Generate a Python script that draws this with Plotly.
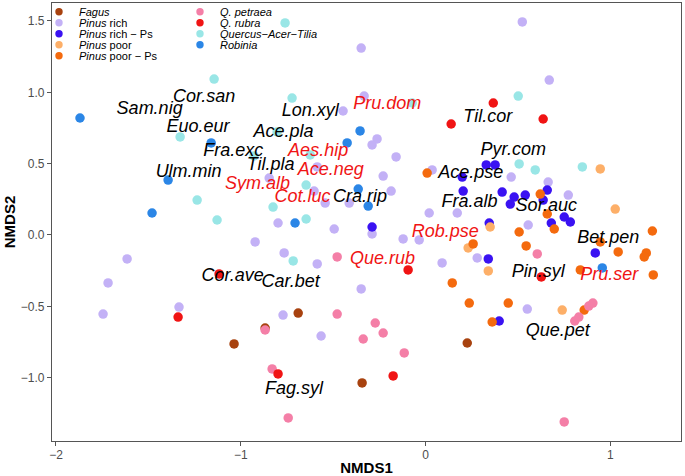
import plotly.graph_objects as go

# ---------------- data (NMDS site scores by forest type) ----------------
groups = ["Fagus", "Pinus rich", "Pinus rich − Ps", "Pinus poor", "Pinus poor − Ps",
          "Q. petraea", "Q. rubra", "Quercus−Acer−Tilia", "Robinia"]

fagus_x = [-1.036, -0.868, -0.689, 0.226, -0.343]
fagus_y = [-0.764, -0.652, -0.547, -0.757, -1.037]

pinus_rich_x = [-0.348, 0.524, 0.670, -0.332, -0.446, -0.262, -0.289, -0.159, -0.229, -0.846,
                -0.586, -0.603, -0.543, -0.413, -0.186, 0.036, 0.020, 0.172, 0.464, 0.664,
                0.773, 0.556, 0.280, 0.090, 0.551, -0.798, -0.494, -0.289, -0.121, -0.034,
                -0.765, -0.586, -0.348, -0.771, -0.565, -0.922, -1.615, -1.718, -1.334, -1.745]
pinus_rich_y = [1.310, 1.493, 1.086, 0.974, 0.869, 0.673, 0.631, 0.547, 0.413, 0.399,
                0.477, 0.308, 0.224, 0.224, 0.308, 0.456, 0.154, 0.154, 0.406, 0.371,
                0.280, 0.070, -0.161, -0.196, -0.519, 0.084, 0.042, 0.007, -0.028, -0.035,
                -0.126, -0.203, -0.378, -0.561, -0.708, -0.049, -0.168, -0.336, -0.505, -0.554]

pinus_rich_ps_x = [0.329, 0.377, 0.199, 0.204, 0.415, 0.480, 0.540, 0.459, 0.659, 0.637,
                   0.345, 0.681, 0.751, 0.784, 0.919, 0.340, 0.399, -0.289]
pinus_rich_ps_y = [0.491, 0.491, 0.406, 0.308, 0.301, 0.266, 0.280, 0.217, 0.315, 0.245,
                   0.084, 0.084, 0.126, 0.091, -0.126, -0.168, -0.603, 0.056]

pinus_poor_x = [0.946, 1.027, 0.350, 0.231, 0.340, 0.740]
pinus_poor_y = [0.463, 0.182, 0.056, -0.091, -0.252, -0.526]

pinus_poor_ps_x = [0.009, 0.621, 0.659, 0.697, 0.507, 0.545, 0.258, 0.145, 0.237, 0.448,
                   0.361, 0.838, 0.946, 1.043, 1.195, 1.184, 1.228, 1.233, 0.859]
pinus_poor_ps_y = [0.434, 0.287, 0.147, 0.042, 0.021, -0.077, -0.063, -0.336, -0.477, -0.477,
                   -0.610, -0.245, -0.049, -0.119, -0.126, -0.154, 0.028, -0.280, -0.526]

q_petraea_x = [-0.478, -0.478, -0.272, -0.229, -0.337, -0.115, -0.868, -0.830, -0.743, 0.605,
               0.751, 0.808, 0.830, 0.884, 0.906]
q_petraea_y = [-0.154, -0.554, -0.617, -0.687, -0.729, -0.827, -0.666, -0.939, -1.282, -0.133,
               -1.310, -0.603, -0.575, -0.498, -0.477]

q_rubra_x = [0.139, 0.367, 0.637, -1.117, -1.339, -0.094, -0.798, -0.175, 0.627]
q_rubra_y = [0.778, 0.925, 0.813, -0.273, -0.575, -0.245, -0.974, -0.988, -0.294]

qat_x = [-0.760, -1.144, -1.328, -0.928, -1.236, -1.128, -0.722, -0.803, -0.624, -0.646,
         -0.825, -0.646, -0.716, -0.072, 0.507, 0.594, 0.849, 0.502]
qat_y = [1.486, 1.093, 0.687, 0.554, 0.245, 0.105, 0.960, 0.722, 0.561, 0.350,
         0.196, 0.112, -0.182, 0.925, 0.498, 0.456, 0.477, 0.974]

robinia_x = [-1.870, -1.160, -1.393, -1.480, -0.354, -0.424, -0.364, -0.310, -0.706, 0.957]
robinia_y = [0.820, 0.645, 0.385, 0.154, 0.729, 0.645, 0.322, 0.203, 0.084, -0.231]

# species scores (black = native, red = non-native)
species_black = ["Sam.nig", "Cor.san", "Euo.eur", "Fra.exc", "Ulm.min", "Lon.xyl", "Ace.pla",
                 "Til.pla", "Cra.rip", "Til.cor", "Pyr.com", "Ace.pse", "Fra.alb", "Sor.auc",
                 "Bet.pen", "Pin.syl", "Que.pet", "Cor.ave", "Car.bet", "Fag.syl"]
species_black_x = [-1.493, -1.198, -1.231, -1.041, -1.282, -0.624, -0.768, -0.838, -0.354, 0.337,
                   0.475, 0.245, 0.239, 0.654, 0.989, 0.610, 0.716, -1.044, -0.730, -0.711]
species_black_y = [0.883, 0.967, 0.750, 0.582, 0.441, 0.869, 0.715, 0.484, 0.266, 0.820,
                   0.589, 0.434, 0.231, 0.203, -0.028, -0.266, -0.673, -0.294, -0.336, -1.086]

species_red = ["Pru.dom", "Aes.hip", "Ace.neg", "Sym.alb", "Cot.luc", "Rob.pse", "Que.rub", "Pru.ser"]
species_red_x = [-0.207, -0.581, -0.513, -0.909, -0.665, 0.107, -0.232, 0.995]
species_red_y = [0.918, 0.582, 0.449, 0.357, 0.266, 0.014, -0.175, -0.287]

x_ticks = [-2, -1, 0, 1]
y_ticks = [-1.0, -0.5, 0.0, 0.5, 1.0, 1.5]

# ---------------- styling ----------------
colors = ["#A8420F", "#C3B1F6", "#3A12F2", "#FDAF68", "#F46A0E",
          "#F47FA7", "#F01414", "#99E6E6", "#2B86E6"]
legend_labels = ["<i>Fagus</i>", "<i>Pinus</i> rich", "<i>Pinus</i> rich − Ps",
                 "<i>Pinus</i> poor", "<i>Pinus</i> poor − Ps", "<i>Q. petraea</i>",
                 "<i>Q. rubra</i>", "<i>Quercus−Acer−Tilia</i>", "<i>Robinia</i>"]
series = [(fagus_x, fagus_y), (pinus_rich_x, pinus_rich_y), (pinus_rich_ps_x, pinus_rich_ps_y),
          (pinus_poor_x, pinus_poor_y), (pinus_poor_ps_x, pinus_poor_ps_y),
          (q_petraea_x, q_petraea_y), (q_rubra_x, q_rubra_y), (qat_x, qat_y),
          (robinia_x, robinia_y)]

FONT = "Liberation Sans, Arial, Helvetica, sans-serif"
W, H = 685, 476
ML, MR, MT, MB = 52, 4, 3, 35

fig = go.Figure()
for name, (xs, ys), c in zip(groups, series, colors):
    fig.add_trace(go.Scatter(x=xs, y=ys, mode="markers", name=name, showlegend=False,
                             marker=dict(color=c, size=9.5, line=dict(width=0))))

fig.add_trace(go.Scatter(x=species_black_x, y=species_black_y, text=species_black, mode="text",
                         showlegend=False, textposition="middle center",
                         textfont=dict(family=FONT, size=18, color="black", style="italic")))
fig.add_trace(go.Scatter(x=species_red_x, y=species_red_y, text=species_red, mode="text",
                         showlegend=False, textposition="middle center",
                         textfont=dict(family=FONT, size=18, color="#F01414", style="italic")))

# manual two-column legend inside the panel (top-left)
pw, ph = W - ML - MR, H - MT - MB
shapes, annos = [], []
for i, (lab, c) in enumerate(zip(legend_labels, colors)):
    col, row = (0, i) if i < 5 else (1, i - 5)
    dot_px = 59 + col * 141
    txt_px = 77 + col * 141
    y_px = 11.7 + row * 11
    xa = (dot_px - ML) / pw
    ya = 1 - (y_px - MT) / ph
    shapes.append(dict(type="circle", xref="paper", yref="paper", xsizemode="pixel",
                       ysizemode="pixel", xanchor=xa, yanchor=ya, x0=-3.7, x1=3.7,
                       y0=-3.7, y1=3.7, fillcolor=c, line=dict(width=0)))
    annos.append(dict(xref="paper", yref="paper", x=(txt_px - ML) / pw, y=ya, text=lab,
                      showarrow=False, xanchor="left", yanchor="middle",
                      font=dict(family=FONT, size=11, color="black")))

axis_common = dict(showgrid=False, zeroline=False, showline=True, mirror=True,
                   linecolor="#555555", linewidth=1.3, ticks="outside", ticklen=4,
                   tickcolor="#555555", tickwidth=1,
                   tickfont=dict(family=FONT, size=12, color="#4D4D4D"))

fig.update_layout(
    width=W, height=H,
    margin=dict(l=ML, r=MR, t=MT, b=MB, autoexpand=False),
    paper_bgcolor="white", plot_bgcolor="white",
    shapes=shapes, annotations=annos,
    xaxis=dict(range=[-2.0215, 1.383], tickvals=x_ticks, ticktext=["−2", "−1", "0", "1"],
               ticklabelstandoff=-2,
               title=dict(text="<b>NMDS1</b>", font=dict(family=FONT, size=15, color="black"),
                          standoff=4),
               **axis_common),
    yaxis=dict(range=[-1.444, 1.626], tickvals=y_ticks, tickformat=".1f",
               title=dict(text="<b>NMDS2</b>", font=dict(family=FONT, size=15, color="black"),
                          standoff=1),
               **axis_common),
)

fig.write_html("out.html", config={"displayModeBar": False},
               post_script="document.body.style.margin='0';document.body.style.overflow='hidden';")
